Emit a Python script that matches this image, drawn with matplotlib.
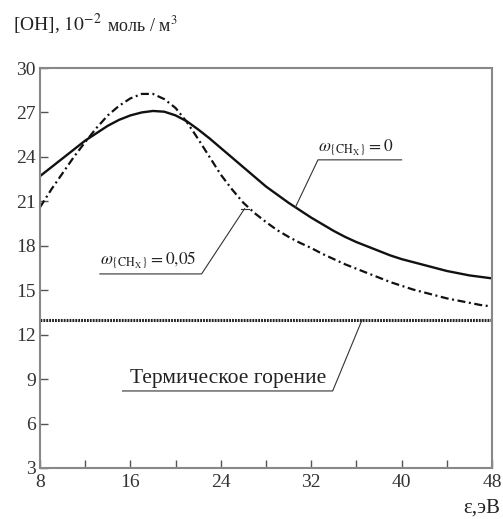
import matplotlib
matplotlib.use("Agg")
import matplotlib.pyplot as plt

plt.rcParams['font.family'] = ['Liberation Serif', 'DejaVu Serif']
plt.rcParams['mathtext.fontset'] = 'stix'

# data
energy = list(range(8, 49))
oh_w0 = [22.7, 23.3, 23.9, 24.5, 25.1, 25.6, 26.1, 26.5, 26.8, 27.0, 27.1, 27.05, 26.8,
         26.4, 25.85, 25.25, 24.6, 23.95, 23.3, 22.65, 22.0, 21.45, 20.9, 20.4, 19.9,
         19.45, 19.0, 18.6, 18.25, 17.95, 17.65, 17.35, 17.1, 16.9, 16.7, 16.5, 16.3,
         16.15, 16.0, 15.9, 15.8]
oh_w005 = [20.6, 21.8, 22.9, 24.0, 25.0, 25.95, 26.8, 27.45, 27.95, 28.25, 28.25, 27.9,
           27.3, 26.35, 25.2, 24.0, 22.8, 21.8, 20.9, 20.2, 19.6, 19.05, 18.6, 18.2,
           17.85, 17.45, 17.1, 16.75, 16.45, 16.15, 15.85, 15.55, 15.3, 15.05, 14.85,
           14.65, 14.45, 14.3, 14.15, 14.0, 13.9]
thermal_x = [8, 48]
thermal_y = [13.0, 13.0]
yticks = [3, 6, 9, 12, 15, 18, 21, 24, 27, 30]
xticks = [8, 12, 16, 20, 24, 28, 32, 36, 40, 44, 48]
xlabels = ['8', '', '16', '', '24', '', '32', '', '40', '', '48']

W, H = 503, 519
fig = plt.figure(figsize=(W / 100, H / 100), dpi=100)
ax = fig.add_axes([40 / W, 1 - 468 / H, 452 / W, 400 / H])

lc = '#111111'
ax.plot(energy, oh_w0, color=lc, lw=1.7, solid_capstyle='butt')
ax.plot(energy, oh_w005, color=lc, lw=1.6, linestyle=(0, (3.6, 1.6, 0.9, 1.6)))
ax.plot(thermal_x, thermal_y, color='#222222', lw=2.2, linestyle=(0, (0.6, 0.35)))

ax.set_xlim(8, 48)
ax.set_ylim(3, 30)
ax.set_xticks(xticks)
ax.set_xticklabels(xlabels)
ax.set_yticks(yticks)
ax.tick_params(direction='in', length=6, width=1.0, color='#555555',
               labelsize=14, labelcolor='#333333', pad=3)
ax.tick_params(axis='x', pad=4)
for s in ax.spines.values():
    s.set_color('#888888')
    s.set_linewidth(1.5)

ann = dict(color='#333333', lw=0.8, clip_on=False)
# omega = 0 label
ax.plot([40.0, 32.6, 30.6], [23.8, 23.8, 20.6], **ann)
ax.text(32.6, 23.95, r'$\omega_{\{\mathrm{CH_X}\}}=0$', fontsize=12.5, ha='left', va='bottom', color='#222222')
# omega = 0.05 label
ax.plot([13.3, 22.3, 26.1], [16.1, 16.1, 20.5], **ann)
ax.plot([25.8, 26.5], [20.5, 20.5], **ann)
ax.text(13.3, 16.3, r'$\omega_{\{\mathrm{CH_X}\}}=0{,}05$', fontsize=12.5, ha='left', va='bottom', color='#222222')
# thermal label
ax.plot([15.3, 33.9, 36.5], [8.2, 8.2, 13.0], **ann)
ax.text(16.0, 8.4, 'Термическое горение', fontsize=15.5, ha='left', va='bottom', color='#222222')

# axis labels
fig.text(13 / W, 1 - 31 / H, '[OH], $10^{-2}$', fontsize=14, ha='left', va='baseline', color='#222222')
fig.text(107 / W, 1 - 31 / H, 'моль / м$^{3}$', fontsize=13, ha='left', va='baseline', color='#222222')
fig.text(500 / W, 1 - 513 / H, 'ε,эВ', fontsize=15, ha='right', va='baseline', color='#222222')

fig.savefig('out.png', dpi=100)
